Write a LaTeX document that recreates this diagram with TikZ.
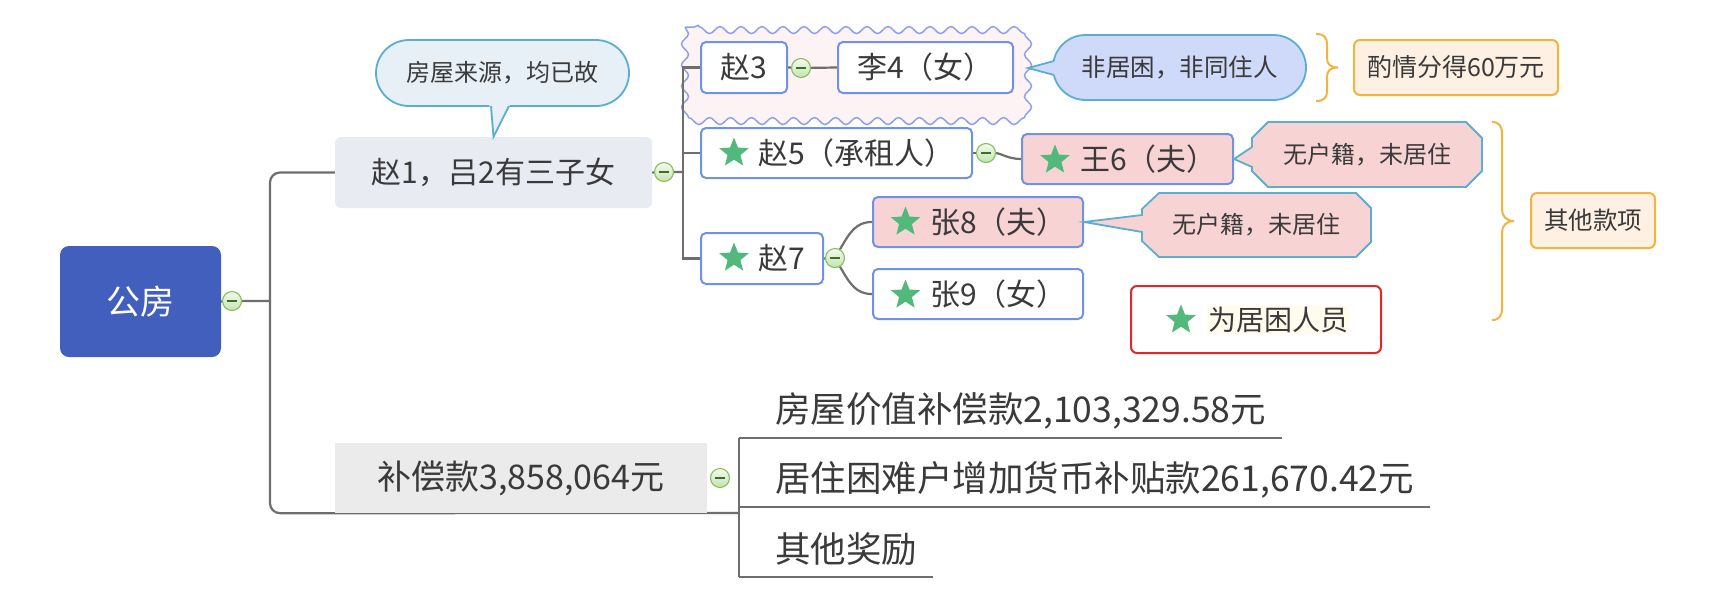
\documentclass[tikz,border=0pt]{standalone}
\usepackage{fontspec}
\setmainfont{Noto Sans CJK SC}
\usetikzlibrary{shapes.geometric,decorations.pathmorphing,backgrounds}
\newcommand{\fsz}[1]{\fontsize{#1}{#1}\selectfont}
\definecolor{topblue}{HTML}{435FBD}
\definecolor{txt}{HTML}{3A3A3A}
\definecolor{linegray}{HTML}{6E6E6E}
\definecolor{boxline}{HTML}{7092E6}
\definecolor{zfill}{HTML}{E9EBF2}
\definecolor{callfill}{HTML}{E7F0F7}
\definecolor{callline}{HTML}{5BAED2}
\definecolor{lavfill}{HTML}{CFD9FA}
\definecolor{pinkfill}{HTML}{F7D4D3}
\definecolor{orng}{HTML}{F2B33F}
\definecolor{orfill}{HTML}{FEF1E3}
\definecolor{stargreen}{HTML}{53B87B}
\definecolor{collline}{HTML}{86BE5C}
\definecolor{colltop}{HTML}{F3FAEE}
\definecolor{collbot}{HTML}{C5E3B1}
\definecolor{colldark}{HTML}{3F6E2A}
\definecolor{cloudfill}{HTML}{FDF3F4}
\definecolor{cloudline}{HTML}{8E9FEE}
\definecolor{legred}{HTML}{E2262B}
\definecolor{legbg}{HTML}{FFFCEE}
\definecolor{bcfill}{HTML}{EBEBEB}
\tikzset{
  conn/.style={draw=linegray, line width=2.2},
  topicbox/.style={draw=boxline, line width=2, rounded corners=5, fill=white, inner sep=0, text=txt},
  coll/.style={circle, draw=collline, line width=1.1, minimum size=19, inner sep=0,
    top color=colltop, bottom color=collbot,
    path picture={\draw[colldark, line width=1.2] ([xshift=-5pt]path picture bounding box.center) -- ([xshift=5pt]path picture bounding box.center);}},
  greenstar/.style={star, star points=5, star point ratio=2.3, fill=stargreen, minimum size=31, inner sep=0},
  lbl/.style={inner sep=0, text=txt, anchor=west},
  callbox/.style={draw=callline, line width=1.8, inner sep=0, text=txt},
  orbox/.style={fill=orfill, draw=orng, line width=2, rounded corners=6, inner sep=0, text=txt, font=\fsz{25}},
  bracepath/.style={draw=orng, line width=2},
}
\begin{document}
\begin{tikzpicture}[x=1pt,y=-1pt]
\useasboundingbox (0,0) rectangle (1714,598);

% root
\node[fill=topblue, rounded corners=9, minimum width=161, minimum height=111, inner sep=0, text=white, font=\fsz{34}] (gf) at (140.5,301.5) {公房};
\node[coll] (c0) at (232,301) {};
\coordinate (j0) at (270,301);

% level 1
\node[fill=zfill, rounded corners=6, minimum width=317, minimum height=71, inner sep=0, text=txt, font=\fsz{30}] (z1) at (493.5,172.5) {赵1，吕2有三子女};
\node[coll] (c1) at (664,172) {};
\coordinate (j1) at (683,172);

\node[callbox, fill=callfill, rounded corners=33, minimum width=253, minimum height=66, font=\fsz{24}] (n1) at (502.5,73) {房屋来源，均已故};
\fill[callfill] (489,103) -- (z1.north) -- (511,103) -- cycle;
\draw[callline, line width=1.8] (491,106) -- (z1.north) -- (509,106);

% Zhao 3 group
\node[topicbox, minimum width=86, minimum height=51, font=\fsz{30}] (z3) at (744,67.5) {赵3};
\node[coll] (c3) at (801,68) {};
\node[topicbox, minimum width=175, minimum height=51, font=\fsz{30}] (l4) at (925.5,67.5) {李4（女）};

\node[callbox, fill=lavfill, rounded corners=32.5, minimum width=253, minimum height=65, font=\fsz{24.5}] (n2) at (1179.5,67.5) {非居困，非同住人};
\coordinate (t2) at (1028,68);
\fill[lavfill] (1054,61) -- (t2) -- (1054,75) -- (1062,75) -- (1062,61) -- cycle;
\draw[callline, line width=1.8] (1054,61) -- (t2) -- (1054,75);

\draw[bracepath] (1316,34) .. controls (1324,34) and (1327,37) .. (1327,45) -- (1327,58) .. controls (1327,64) and (1330,67.5) .. (1338,67.5) .. controls (1330,67.5) and (1327,71) .. (1327,77) -- (1327,90) .. controls (1327,98) and (1324,101) .. (1316,101);
\node[orbox, minimum width=204, minimum height=55] (b1) at (1456,67.5) {酌情分得60万元};

% Zhao 5
\node[topicbox, minimum width=271, minimum height=50] (z5) at (836.5,153) {};
\node[greenstar] (s5) at (734,153) {};
\node[lbl, font=\fsz{30}] (t5) at (758,153) {赵5（承租人）};
\node[coll] (c5) at (986,153) {};
\node[topicbox, fill=pinkfill, minimum width=211, minimum height=50] (w6) at (1127.5,159) {};
\node[greenstar] (s6) at (1055,160) {};
\node[lbl, font=\fsz{30}] (t6) at (1080,159) {王6（夫）};

\filldraw[fill=pinkfill, draw=callline, line width=1.8] (1268,122) -- (1466,122) -- (1482,138) -- (1482,171) -- (1466,187) -- (1268,187) -- (1252,171) -- (1252,167) -- (w6.east) -- (1252,147) -- (1252,138) -- cycle;
\node[inner sep=0, text=txt, font=\fsz{24}] (n3) at (1367,155) {无户籍，未居住};

% Zhao 7
\node[topicbox, minimum width=122, minimum height=51] (z7) at (762,258.5) {};
\node[greenstar] (s7) at (734,258) {};
\node[lbl, font=\fsz{30}] (t7) at (758,258) {赵7};
\node[coll] (c7) at (835,258) {};
\node[topicbox, fill=pinkfill, minimum width=210, minimum height=50] (z8) at (978,222) {};
\node[greenstar] (s8) at (905.5,222) {};
\node[lbl, font=\fsz{30}] (t8) at (930,222) {张8（夫）};
\node[topicbox, minimum width=210, minimum height=50] (z9) at (978,294) {};
\node[greenstar] (s9) at (905.5,295) {};
\node[lbl, font=\fsz{30}] (t9) at (930,294) {张9（女）};

\filldraw[fill=pinkfill, draw=callline, line width=1.8] (1159,193) -- (1356,193) -- (1371,208) -- (1371,242) -- (1356,257) -- (1159,257) -- (1142,241) -- (1142,232) -- (z8.east) -- (1142,215) -- (1142,209) -- cycle;
\node[inner sep=0, text=txt, font=\fsz{24}] (n4) at (1256,225) {无户籍，未居住};

% legend
\node[draw=legred, line width=2, rounded corners=6, minimum width=250, minimum height=67, fill=white] (lg) at (1256,319.5) {};
\node[greenstar] (sl) at (1181,320) {};
\node[lbl, fill=legbg, inner sep=1, font=\fsz{28}] (tl) at (1207,320) {为居困人员};

\draw[bracepath] (1492,122) .. controls (1499,122) and (1502,126) .. (1502,134) -- (1502,209) .. controls (1502,216) and (1506,221) .. (1514,221) .. controls (1506,221) and (1502,226) .. (1502,233) -- (1502,308) .. controls (1502,316) and (1499,320) .. (1492,320);
\node[orbox, minimum width=124, minimum height=55, font=\fsz{24.5}] (b2) at (1593,220.5) {其他款项};

% compensation
\node[fill=bcfill, minimum width=372, minimum height=70, inner sep=0, text=txt, font=\fsz{34}] (bc) at (521,478) {补偿款3,858,064元};
\node[coll] (c8) at (720,478) {};
\coordinate (j2) at (739,513);
\coordinate (k1) at (739,438);
\coordinate (k2) at (739,507);
\coordinate (k3) at (739,577);
\node[lbl, font=\fsz{35.5}] (u1) at (775,411) {房屋价值补偿款2,103,329.58元};
\node[lbl, font=\fsz{35.5}] (u2) at (775,480) {居住困难户增加货币补贴款261,670.42元};
\node[lbl, font=\fsz{35.5}] (u3) at (775,549) {其他奖励};

\begin{scope}[on background layer]
  \fill[white] (0,0) rectangle (1714,598);
  \draw[decorate, decoration={snake, amplitude=3.5, segment length=21}, fill=cloudfill, draw=cloudline, line width=1.5] (685,27) rectangle (1029,109);
  \draw[conn] (gf.east) -- (c0) -- (j0);
  \draw[conn, rounded corners=10] (z1.west) -| (j0) |- (bc.south west);
  \draw[conn] (bc.south west) -- (j2);
  \draw[conn] (z1.east) -- (c1) -- (j1);
  \draw[conn] (z3.west) -| (j1);
  \draw[conn] (z7.west) -| (j1);
  \draw[conn] (z5.west) -- (z5.west -| j1);
  \draw[conn] (z3.east) -- (c3) -- (l4.west);
  \draw[conn] (z5.east) -- (c5);
  \draw[conn] (c5.east) .. controls (1000,153) and (1008,159) .. (w6.west);
  \draw[conn] (z7.east) -- (c7);
  \draw[conn] (c7.60) .. controls (850,232) and (856,222) .. (z8.west);
  \draw[conn] (c7.-60) .. controls (850,284) and (856,294) .. (z9.west);
  \draw[conn] (k1) -- (k3);
  \draw[conn] (k1) -- (k1 -| u1.east) -- ++(16,0);
  \draw[conn] (k2) -- (k2 -| u2.east) -- ++(16,0);
  \draw[conn] (k3) -- (k3 -| u3.east) -- ++(16,0);
\end{scope}
\end{tikzpicture}
\end{document}
